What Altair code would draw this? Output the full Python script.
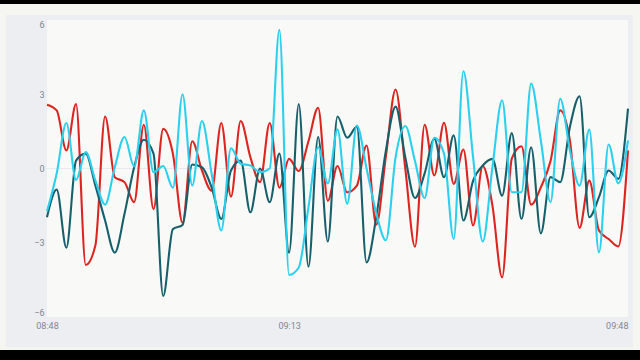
import altair as alt
import pandas as pd

# per-minute samples, 08:48 .. 09:48
start = "2024-01-01 08:48:00"
minutes = 61

red = [2.58, 2.35, 0.73, 2.6, -3.9, -3.1, 2.1, -0.35, -0.55, -1.36,
       1.77, -1.64, 1.6, 0.6, -2.2, 1.1, -0.08, -0.9, 1.84, -1.14,
       1.92, 0.46, -0.55, 1.84, -0.78, 0.39, -0.1, 1.1, 2.45, -1.3,
       0.1, -0.96, -0.69, 0.93, -2.27, 0.5, 3.19, 0.0, -3.16, 1.77,
       -0.28, 1.85, -0.62, 0.77, -2.3, 0.1, -1.5, -4.4, 0.4, 0.9,
       -1.46, -0.76, 0.3, 2.35, 1.13, -2.4, -0.49, -2.5, -2.85, -3.15,
       0.73]

teal = [-1.97, -0.85, -3.2, 0.32, 0.6, -0.7, -2.1, -3.4, -1.84, 0.05,
        1.16, 0.6, -5.15, -2.45, -2.28, 0.16, 0.05, -0.76, -2.04, -0.08,
        0.32, -1.77, 0.0, -1.36, 0.6, -3.4, 2.6, -3.97, 1.27, -2.95,
        2.1, 1.24, 1.68, -3.8, -1.97, 0.73, 2.5, 0.46, -1.19, -0.2,
        1.2, -0.35, 1.34, -2.1, -0.5, 0.12, 0.39, -1.1, 1.43, -2.04,
        0.86, -2.62, -0.35, -0.55, 1.68, 2.92, -1.97, -1.16, -0.08, -0.42,
        2.42]

cyan = [-1.73, -0.2, 1.84, -0.46, 0.66, -0.49, -1.46, 0.05, 1.27, 0.08,
        2.35, -0.15, 0.1, -0.78, 3.0, -0.69, 1.92, -0.2, -2.5, 0.82,
        0.19, 0.12, -0.15, 0.0, 5.6, -4.3, -4.0, -1.57, 0.86, -0.6,
        1.58, -1.43, 1.74, 0.0, -1.8, -2.9, 0.46, 1.72, 0.3, -1.19,
        1.24, 0.6, -2.85, 3.93, 0.46, -2.95, 0.05, 2.76, -0.96, -0.96,
        3.43, 1.13, -1.36, 2.82, 0.73, -0.69, 1.57, -3.39, 0.97, -0.6,
        1.14]

series_names = ["red", "teal", "cyan"]
series_colors = ["#dc2420", "#17606b", "#2bd0ee"]
y_ticks = [-6, -3, 0, 3, 6]

times = pd.date_range(start, periods=minutes, freq="min").strftime("%Y-%m-%dT%H:%M:%S")
rows = []
for name, vals in zip(series_names, [red, teal, cyan]):
    for t, v in zip(times, vals):
        rows.append({"time": t, "value": v, "series": name})
df = pd.DataFrame(rows)

W, H = 581, 297
one = alt.Data(values=[{}])

def deco(x1, x2, y1, y2, color):
    return alt.Chart(one).mark_rect(color=color).encode(
        x=alt.value(x1), x2=alt.value(x2), y=alt.value(y1), y2=alt.value(y2))

top_band = deco(-47, 593, -20, -16, "#000000")
bottom_band = deco(-47, 593, 330, 340, "#000000")
panel = deco(-41, 586, -5, 327, "#eceef2")
plot_bg = deco(0, W, 0, H, "#f9faf7")

zero = alt.Chart(one).mark_rule(color="#e8e9ee", strokeWidth=1).encode(
    y=alt.datum(0))

x_axis = alt.Axis(
    values=[alt.DateTime(year=2024, month=1, date=1, hours=8, minutes=48),
            alt.DateTime(year=2024, month=1, date=1, hours=9, minutes=13),
            alt.DateTime(year=2024, month=1, date=1, hours=9, minutes=48)],
    format="%H:%M", title=None, domain=False, ticks=False, grid=False,
    labelPadding=4, labelFontSize=9, labelColor="#7f878e", labelFont="Roboto",
    zindex=1,
    labelAlign={"expr": "datum.index >= 1 ? 'right' : 'center'"})

y_axis = alt.Axis(values=y_ticks, title=None, domain=False, ticks=False, grid=False,
                  labelPadding=3, labelFontSize=9, labelColor="#7f878e",
                  labelFont="Roboto", labelFlush=True, zindex=1)

lines = alt.Chart(df).mark_line(interpolate="monotone", strokeWidth=2.1).encode(
    x=alt.X("time:T", axis=x_axis, scale=alt.Scale(nice=False)),
    y=alt.Y("value:Q", axis=y_axis, scale=alt.Scale(domain=[-6, 6], nice=False)),
    color=alt.Color("series:N", legend=None,
                    scale=alt.Scale(domain=series_names, range=series_colors)),
)

chart = alt.layer(top_band, bottom_band, panel, plot_bg, zero, lines).properties(
    width=W, height=H,
    autosize=alt.AutoSizeParams(type="none"),
    padding={"left": 47, "top": 20, "right": 12, "bottom": 43},
    background="#f5f6f2",
).configure_view(stroke=None, fill=None)

chart.save("out.html", embed_options={"renderer": "svg", "actions": False})
